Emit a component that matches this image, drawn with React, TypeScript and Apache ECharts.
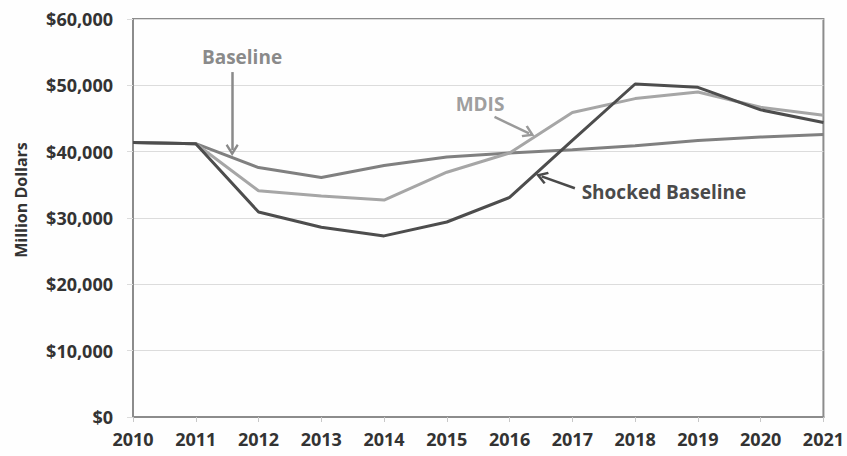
import React, { useEffect, useRef } from "react";
import * as echarts from "echarts";

const years = [2010, 2011, 2012, 2013, 2014, 2015, 2016, 2017, 2018, 2019, 2020, 2021];
const baseline = [41400, 41200, 37600, 36100, 37900, 39200, 39800, 40300, 40900, 41700, 42200, 42600];
const mdis = [41400, 41200, 34100, 33300, 32700, 36900, 39800, 45900, 48000, 49000, 46700, 45500];
const shocked = [41400, 41200, 30900, 28600, 27300, 29400, 33100, 41700, 50200, 49700, 46300, 44400];
const yTicks = [0, 10000, 20000, 30000, 40000, 50000, 60000];

const FONT = "'Open Sans', 'DejaVu Sans', sans-serif";
const CHEVRON = "path://M5,0 L10,8 L8.6,9.2 L5,3.6 L1.4,9.2 L0,8 Z";

function pairs(vals: number[]) {
  return years.map((y, i) => [y, vals[i]]);
}

function arrow(color: string, from: number[], to: number[]) {
  return {
    silent: true,
    symbol: ["none", CHEVRON],
    symbolSize: [13, 12],
    label: { show: false },
    lineStyle: { color, width: 2.5, type: "solid" },
    data: [[{ coord: from }, { coord: to }]],
  };
}

export default function App() {
  const ref = useRef<HTMLDivElement>(null);
  useEffect(() => {
    if (!ref.current) return;
    const chart = echarts.init(ref.current, undefined, { renderer: "svg" });
    chart.setOption({
      animation: false,
      backgroundColor: "#fefefe",
      grid: {
        left: 133,
        right: 23,
        top: 19,
        bottom: 39,
        show: true,
        borderColor: "#8c8c8c",
        borderWidth: 2,
      },
      xAxis: {
        type: "value",
        min: 2010,
        max: 2021,
        interval: 1,
        splitLine: { show: false },
        axisLine: { show: true, lineStyle: { color: "#8c8c8c", width: 2 } },
        axisTick: { show: true, length: 5, lineStyle: { color: "#c8c8c8" } },
        axisLabel: {
          color: "#333333",
          fontFamily: FONT,
          fontWeight: "bold",
          fontSize: 18,
          margin: 13,
          formatter: (v: number) => String(v),
        },
      },
      yAxis: {
        type: "value",
        min: yTicks[0],
        max: yTicks[yTicks.length - 1],
        interval: 10000,
        splitLine: { show: true, lineStyle: { color: "#dcdcdc", width: 1 } },
        axisLine: { show: true, lineStyle: { color: "#8c8c8c", width: 2 } },
        axisTick: { show: true, length: 6, lineStyle: { color: "#dcdcdc" } },
        axisLabel: {
          color: "#333333",
          fontFamily: FONT,
          fontWeight: "bold",
          fontSize: 18,
          margin: 20,
          formatter: (v: number) => "$" + v.toLocaleString("en-US"),
        },
      },
      series: [
        {
          name: "Baseline",
          type: "line",
          data: pairs(baseline),
          symbol: "none",
          lineStyle: { color: "#808080", width: 3 },
          z: 2,
          markLine: arrow("#8a8a8a", [2011.58, 52000], [2011.58, 40250]),
        },
        {
          name: "MDIS",
          type: "line",
          data: pairs(mdis),
          symbol: "none",
          lineStyle: { color: "#a6a6a6", width: 3 },
          z: 3,
          markLine: arrow("#9a9a9a", [2015.76, 45230], [2016.31, 42770]),
        },
        {
          name: "Shocked Baseline",
          type: "line",
          data: pairs(shocked),
          symbol: "none",
          lineStyle: { color: "#4d4d4d", width: 3 },
          z: 4,
          markLine: arrow("#4a4a4a", [2017.04, 34480], [2016.51, 36270]),
        },
      ],
      graphic: [
        {
          type: "text",
          x: 21,
          y: 200,
          rotation: Math.PI / 2,
          style: {
            text: "Million Dollars",
            fill: "#333333",
            font: `bold 16px ${FONT}`,
            align: "center",
            verticalAlign: "middle",
          },
        },
        {
          type: "text",
          x: 242,
          y: 57,
          style: {
            text: "Baseline",
            fill: "#8a8a8a",
            font: `bold 19px ${FONT}`,
            align: "center",
            verticalAlign: "middle",
          },
        },
        {
          type: "text",
          x: 480,
          y: 104,
          style: {
            text: "MDIS",
            fill: "#9f9f9f",
            font: `bold 19px ${FONT}`,
            align: "center",
            verticalAlign: "middle",
          },
        },
        {
          type: "text",
          x: 664,
          y: 192,
          style: {
            text: "Shocked Baseline",
            fill: "#4a4a4a",
            font: `bold 19px ${FONT}`,
            align: "center",
            verticalAlign: "middle",
          },
        },
      ],
    });
    return () => chart.dispose();
  }, []);
  return (
    <div
      ref={ref}
      style={{ position: "fixed", left: 0, top: 0, width: 847, height: 456 }}
    />
  );
}
